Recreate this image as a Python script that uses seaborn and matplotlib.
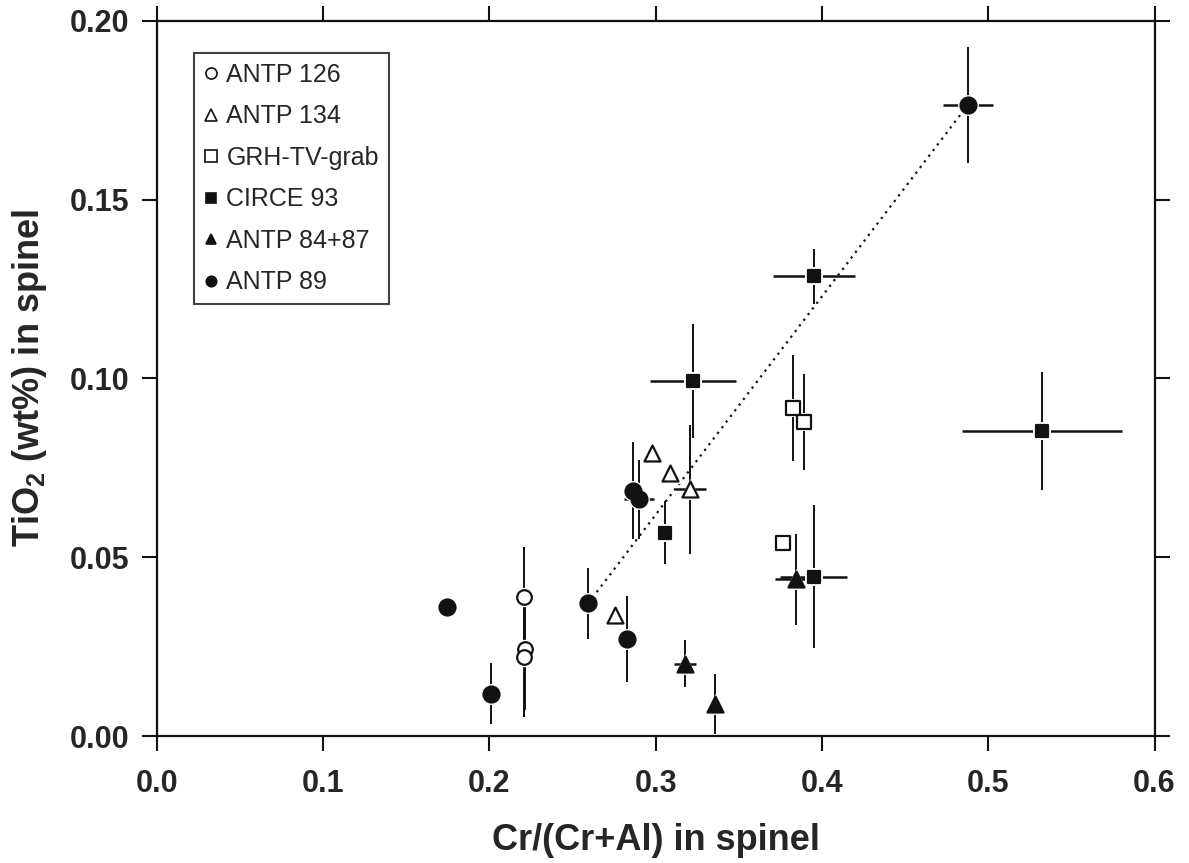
import matplotlib
matplotlib.use("Agg")
import matplotlib.pyplot as plt
import seaborn as sns
import pandas as pd
from matplotlib.lines import Line2D

# ---------------- data ----------------
groups = ["ANTP 126", "ANTP 134", "GRH-TV-grab", "CIRCE 93", "ANTP 84+87", "ANTP 89"]

antp126_x = [0.2207, 0.2215, 0.2207]
antp126_y = [0.0389, 0.0243, 0.0221]
antp126_xerr = [0.0, 0.0, 0.0]
antp126_yerr = [0.014, 0.017, 0.0168]

antp134_x = [0.298, 0.3088, 0.3209, 0.2754]
antp134_y = [0.0792, 0.0736, 0.069, 0.0338]
antp134_xerr = [0.0, 0.0, 0.0096, 0.0]
antp134_yerr = [0.0, 0.0, 0.018, 0.0]

grh_x = [0.3826, 0.3894, 0.3766]
grh_y = [0.0917, 0.0878, 0.0541]
grh_xerr = [0.0, 0.0, 0.0]
grh_yerr = [0.0148, 0.0133, 0.0]

circe_x = [0.3224, 0.3058, 0.3952, 0.5323, 0.395]
circe_y = [0.0993, 0.0569, 0.1285, 0.0853, 0.0446]
circe_xerr = [0.026, 0.0, 0.0244, 0.048, 0.02]
circe_yerr = [0.016, 0.0087, 0.0078, 0.0164, 0.0199]

antp8487_x = [0.3846, 0.3174, 0.3355]
antp8487_y = [0.0438, 0.0203, 0.009]
antp8487_xerr = [0.0126, 0.0066, 0.0]
antp8487_yerr = [0.0128, 0.0067, 0.0085]

antp89_x = [0.4878, 0.1745, 0.2012, 0.2593, 0.283, 0.2864, 0.29]
antp89_y = [0.1765, 0.0362, 0.0119, 0.0371, 0.0271, 0.0686, 0.0662]
antp89_xerr = [0.015, 0.0, 0.004, 0.0, 0.0, 0.0, 0.009]
antp89_yerr = [0.0162, 0.0, 0.0086, 0.0099, 0.0121, 0.0135, 0.011]

trend_x = [0.2593, 0.4878]
trend_y = [0.0371, 0.1765]

x_ticks = [0.0, 0.1, 0.2, 0.3, 0.4, 0.5, 0.6]
y_ticks = [0.00, 0.05, 0.10, 0.15, 0.20]

# ---------------- styles ----------------
styles = {
    "ANTP 126": dict(marker="o", face="white", size=10.5),
    "ANTP 134": dict(marker="^", face="white", size=11.5),
    "GRH-TV-grab": dict(marker="s", face="white", size=9.5),
    "CIRCE 93": dict(marker="s", face="#111111", size=9.0),
    "ANTP 84+87": dict(marker="^", face="#111111", size=11.5),
    "ANTP 89": dict(marker="o", face="#111111", size=11.5),
}

frames = []
for name, xs, ys, xe, ye in [
    ("ANTP 126", antp126_x, antp126_y, antp126_xerr, antp126_yerr),
    ("ANTP 134", antp134_x, antp134_y, antp134_xerr, antp134_yerr),
    ("GRH-TV-grab", grh_x, grh_y, grh_xerr, grh_yerr),
    ("CIRCE 93", circe_x, circe_y, circe_xerr, circe_yerr),
    ("ANTP 84+87", antp8487_x, antp8487_y, antp8487_xerr, antp8487_yerr),
    ("ANTP 89", antp89_x, antp89_y, antp89_xerr, antp89_yerr),
]:
    frames.append(pd.DataFrame({"group": name, "x": xs, "y": ys, "xerr": xe, "yerr": ye}))
df = pd.concat(frames, ignore_index=True)

sns.set_theme(style="ticks")
plt.rcParams["font.family"] = ["Liberation Sans", "DejaVu Sans"]

fig = plt.figure(figsize=(11.89, 8.63), dpi=100)
ax = fig.add_axes([0.132, 0.147, 0.839, 0.829])

# error bars
for _, r in df.iterrows():
    if r["yerr"] > 0:
        ax.errorbar(r["x"], r["y"], yerr=r["yerr"], fmt="none", ecolor="#111111",
                    elinewidth=1.4, capsize=0, zorder=2)
    if r["xerr"] > 0:
        ax.errorbar(r["x"], r["y"], xerr=r["xerr"], fmt="none", ecolor="#111111",
                    elinewidth=1.8, capsize=0, zorder=2)

# dotted trend line
sns.lineplot(x=trend_x, y=trend_y, ax=ax, color="#111111", linestyle=(0, (1, 2.2)),
             linewidth=1.6, zorder=1)

# markers with white halo
for g in groups:
    st = styles[g]
    sub = df[df["group"] == g]
    sns.scatterplot(data=sub, x="x", y="y", ax=ax, marker=st["marker"],
                    s=(st["size"] + 3.5) ** 2, color="white", edgecolor="white",
                    linewidth=0, zorder=3, legend=False)
    sns.scatterplot(data=sub, x="x", y="y", ax=ax, marker=st["marker"],
                    s=st["size"] ** 2, color=st["face"], edgecolor="#111111",
                    linewidth=1.6, zorder=4, legend=False)

ax.set_xlim(0.0, 0.6)
ax.set_ylim(0.0, 0.2)
ax.set_xticks(x_ticks)
ax.set_yticks(y_ticks)
ax.set_xticklabels([f"{v:.1f}" for v in x_ticks])
ax.set_yticklabels([f"{v:.2f}" for v in y_ticks])
ax.tick_params(axis="both", which="major", direction="out", length=11, width=1.5,
               labelsize=22, top=True, right=True, color="#111111")
for lab in ax.get_xticklabels() + ax.get_yticklabels():
    lab.set_fontweight("bold")
ax.tick_params(axis="x", pad=13)
ax.tick_params(axis="y", pad=9)
for sp in ax.spines.values():
    sp.set_visible(True)
    sp.set_linewidth(1.6)
    sp.set_color("#111111")

ax.set_xlabel("Cr/(Cr+Al) in spinel", fontsize=26, fontweight="bold", labelpad=17)
ax.set_ylabel("TiO$_\\mathregular{2}$ (wt%) in spinel", fontsize=26, fontweight="bold",
              labelpad=15)

# legend
handles = []
for g in groups:
    st = styles[g]
    handles.append(Line2D([], [], linestyle="none", marker=st["marker"],
                          markersize=8 if st["face"] == "white" else 7.5,
                          markerfacecolor=st["face"], markeredgecolor="#111111",
                          markeredgewidth=1.2, label=g))
leg = ax.legend(handles=handles, loc="upper left", bbox_to_anchor=(0.037, 0.955),
                frameon=True, fancybox=False, fontsize=18, handlelength=0.6,
                handletextpad=0.3, labelspacing=0.7, borderpad=0.4,
                borderaxespad=0.0)
leg.get_frame().set_edgecolor("#111111")
leg.get_frame().set_linewidth(1.5)

fig.savefig("out.png", dpi=100)
